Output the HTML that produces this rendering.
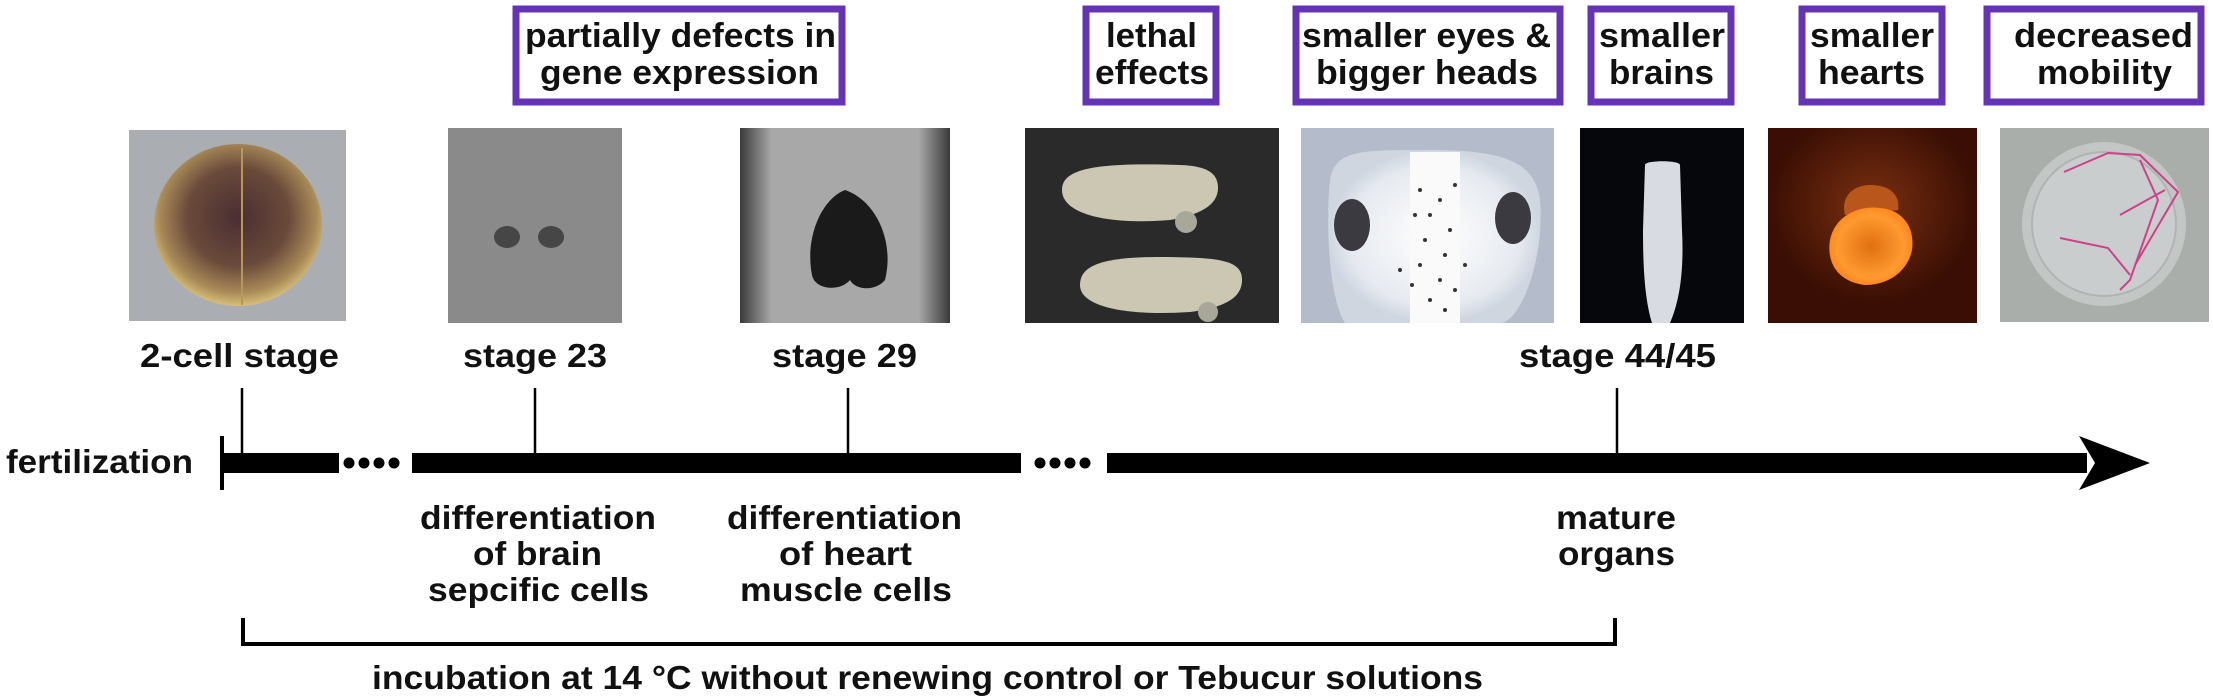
<!DOCTYPE html>
<html><head><meta charset="utf-8"><style>
html,body{margin:0;padding:0;background:#fff;}
svg{display:block;}
text{font-family:"Liberation Sans",sans-serif;font-weight:bold;fill:#111;}
</style></head><body>
<svg width="2213" height="699" viewBox="0 0 2213 699" xmlns="http://www.w3.org/2000/svg">
<defs>
<radialGradient id="egg" cx="50%" cy="45%" r="55%"><stop offset="0" stop-color="#4a2e32"/><stop offset="0.55" stop-color="#6a4a3a"/><stop offset="0.85" stop-color="#a88a58"/><stop offset="1" stop-color="#d8c078"/></radialGradient>
<radialGradient id="heart" cx="50%" cy="50%" r="50%"><stop offset="0" stop-color="#e07010"/><stop offset="0.8" stop-color="#ff9a30"/><stop offset="1" stop-color="#ff8a20"/></radialGradient>
<radialGradient id="glow" cx="50%" cy="40%" r="50%"><stop offset="0" stop-color="#7a3010"/><stop offset="1" stop-color="#3a0e04"/></radialGradient>
<linearGradient id="body29" x1="0" x2="1"><stop offset="0" stop-color="#3a3a3a"/><stop offset="0.15" stop-color="#a8a8a8"/><stop offset="0.85" stop-color="#a8a8a8"/><stop offset="1" stop-color="#3a3a3a"/></linearGradient>
<radialGradient id="head" cx="50%" cy="50%" r="50%"><stop offset="0" stop-color="#ffffff"/><stop offset="0.8" stop-color="#e6eaf0"/><stop offset="1" stop-color="#cfd6e0"/></radialGradient>
</defs>

<g fill="#fff" stroke="#6434b4" stroke-width="7">
<rect x="516" y="9" width="326" height="93"/>
<rect x="1086" y="9" width="130" height="93"/>
<rect x="1296" y="9" width="264" height="93"/>
<rect x="1591" y="9" width="140" height="93"/>
<rect x="1802" y="9" width="140" height="93"/>
<rect x="1987" y="9" width="214" height="93"/>
</g>
<g font-size="34">
<text x="525" y="47" textLength="311" lengthAdjust="spacingAndGlyphs">partially defects in</text>
<text x="540" y="84" textLength="279" lengthAdjust="spacingAndGlyphs">gene expression</text>
<text x="1106" y="47" textLength="91" lengthAdjust="spacingAndGlyphs">lethal</text>
<text x="1095" y="84" textLength="114" lengthAdjust="spacingAndGlyphs">effects</text>
<text x="1302" y="47" textLength="249" lengthAdjust="spacingAndGlyphs">smaller eyes &amp;</text>
<text x="1316" y="84" textLength="222" lengthAdjust="spacingAndGlyphs">bigger heads</text>
<text x="1599" y="47" textLength="126" lengthAdjust="spacingAndGlyphs">smaller</text>
<text x="1609" y="84" textLength="105" lengthAdjust="spacingAndGlyphs">brains</text>
<text x="1810" y="47" textLength="124" lengthAdjust="spacingAndGlyphs">smaller</text>
<text x="1818" y="84" textLength="107" lengthAdjust="spacingAndGlyphs">hearts</text>
<text x="2014" y="47" textLength="179" lengthAdjust="spacingAndGlyphs">decreased</text>
<text x="2037" y="84" textLength="135" lengthAdjust="spacingAndGlyphs">mobility</text>
</g>

<rect x="129" y="130" width="217" height="191" fill="#aaaeb2"/>
<ellipse cx="238" cy="225" rx="84" ry="81" fill="url(#egg)"/>
<line x1="242" y1="148" x2="242" y2="305" stroke="#b89858" stroke-width="2"/>
<rect x="448" y="128" width="174" height="195" fill="#8a8a8a"/>
<ellipse cx="507" cy="237" rx="13" ry="11" fill="#3a3a3a" opacity="0.85"/>
<ellipse cx="551" cy="237" rx="13" ry="11" fill="#3a3a3a" opacity="0.85"/>
<rect x="740" y="128" width="210" height="195" fill="url(#body29)"/>
<path d="M845 190 C875 200 895 240 885 280 C875 292 855 290 850 280 C840 292 815 290 812 275 C805 240 820 200 845 190Z" fill="#1a1a1a"/>
<rect x="1025" y="128" width="254" height="195" fill="#2a2a2a"/>
<path d="M1062 190 C1062 170 1090 162 1180 165 C1210 166 1218 175 1218 188 C1218 205 1200 215 1170 220 C1110 225 1062 215 1062 190Z" fill="#cbc7b2"/>
<circle cx="1186" cy="222" r="11" fill="#a8a89a"/>
<path d="M1080 285 C1080 262 1110 254 1200 258 C1235 260 1242 268 1242 280 C1242 300 1220 308 1190 312 C1130 316 1080 308 1080 285Z" fill="#cbc7b2"/>
<circle cx="1208" cy="312" r="10" fill="#a8a89a"/>
<rect x="1301" y="128" width="253" height="195" fill="#b4bccb"/>
<path d="M1330 180 C1335 150 1360 150 1428 150 C1500 150 1535 160 1540 200 C1545 260 1520 323 1500 323 L1345 323 C1330 300 1325 230 1330 180Z" fill="url(#head)"/>
<rect x="1410" y="152" width="50" height="171" fill="#fafafa"/>
<ellipse cx="1352" cy="225" rx="18" ry="26" fill="#3a3a40"/>
<ellipse cx="1513" cy="218" rx="18" ry="26" fill="#3a3a40"/>
<g fill="#333">
<circle cx="1420" cy="190" r="2"/><circle cx="1440" cy="200" r="2"/><circle cx="1430" cy="215" r="2"/><circle cx="1450" cy="230" r="2"/><circle cx="1425" cy="240" r="2"/><circle cx="1445" cy="255" r="2"/><circle cx="1420" cy="265" r="2"/><circle cx="1440" cy="280" r="2"/><circle cx="1455" cy="290" r="2"/><circle cx="1430" cy="300" r="2"/><circle cx="1412" cy="285" r="2"/><circle cx="1400" cy="270" r="2"/><circle cx="1465" cy="265" r="2"/><circle cx="1445" cy="310" r="2"/><circle cx="1415" cy="215" r="2"/><circle cx="1455" cy="185" r="2"/>
</g>
<rect x="1580" y="128" width="164" height="195" fill="#05070c"/>
<path d="M1645 165 C1645 160 1680 160 1680 165 L1682 230 C1684 270 1680 300 1670 323 L1652 323 C1645 300 1643 270 1643 230Z" fill="#d8dce2"/>
<rect x="1768" y="128" width="209" height="195" fill="url(#glow)"/>
<path d="M1845 215 C1840 195 1855 185 1870 185 C1895 185 1900 200 1898 210Z" fill="#b8561c"/>
<path d="M1830 240 C1835 215 1860 205 1880 208 C1905 210 1915 230 1912 250 C1908 270 1890 285 1865 285 C1840 282 1826 265 1830 240Z" fill="url(#heart)"/>
<rect x="2000" y="128" width="209" height="194" fill="#a9aeab"/>
<circle cx="2104" cy="224" r="82" fill="#c2c6c4"/>
<circle cx="2104" cy="224" r="72" fill="#cacdcd" stroke="#b0b4b2" stroke-width="2"/>
<g stroke="#d0408a" stroke-width="2" fill="none">
<path d="M2064 172 L2108 153 L2140 155 L2178 192 L2135 265"/>
<path d="M2140 160 L2158 200 L2130 280 L2120 290"/>
<path d="M2060 238 L2108 248 L2130 275"/>
<path d="M2120 215 L2165 190"/>
</g>

<g font-size="33">
<text x="140" y="367" textLength="199" lengthAdjust="spacingAndGlyphs">2-cell stage</text>
<text x="463" y="367" textLength="144" lengthAdjust="spacingAndGlyphs">stage 23</text>
<text x="772" y="367" textLength="145" lengthAdjust="spacingAndGlyphs">stage 29</text>
<text x="1519" y="367" textLength="197" lengthAdjust="spacingAndGlyphs">stage 44/45</text>
<text x="6" y="473" textLength="187" lengthAdjust="spacingAndGlyphs">fertilization</text>
<text x="420" y="529" textLength="236" lengthAdjust="spacingAndGlyphs">differentiation</text>
<text x="473" y="565" textLength="129" lengthAdjust="spacingAndGlyphs">of brain</text>
<text x="428" y="601" textLength="221" lengthAdjust="spacingAndGlyphs">sepcific cells</text>
<text x="727" y="529" textLength="235" lengthAdjust="spacingAndGlyphs">differentiation</text>
<text x="779" y="565" textLength="133" lengthAdjust="spacingAndGlyphs">of heart</text>
<text x="740" y="601" textLength="212" lengthAdjust="spacingAndGlyphs">muscle cells</text>
<text x="1556" y="529" textLength="120" lengthAdjust="spacingAndGlyphs">mature</text>
<text x="1558" y="565" textLength="117" lengthAdjust="spacingAndGlyphs">organs</text>
<text x="372" y="689" textLength="1111" lengthAdjust="spacingAndGlyphs">incubation at 14 °C without renewing control or Tebucur solutions</text>
</g>

<g fill="#000">
<rect x="220" y="436" width="4" height="54"/>
<rect x="222" y="453" width="117" height="20"/>
<circle cx="349" cy="463" r="5.5"/><circle cx="364" cy="463" r="5.5"/><circle cx="379" cy="463" r="5.5"/><circle cx="394" cy="463" r="5.5"/>
<rect x="412" y="453" width="609" height="20"/>
<circle cx="1040" cy="463" r="5.5"/><circle cx="1055" cy="463" r="5.5"/><circle cx="1070" cy="463" r="5.5"/><circle cx="1085" cy="463" r="5.5"/>
<rect x="1107" y="453" width="980" height="20"/>
<polygon points="2079,436 2150,463 2079,490 2095,463"/>
</g>
<g stroke="#000" stroke-width="2.5">
<line x1="242" y1="388" x2="242" y2="455"/>
<line x1="535" y1="388" x2="535" y2="455"/>
<line x1="848" y1="388" x2="848" y2="455"/>
<line x1="1617" y1="388" x2="1617" y2="455"/>
</g>
<path d="M243 618 L243 644 L1615 644 L1615 618" fill="none" stroke="#000" stroke-width="4"/>
</svg>
</body></html>
